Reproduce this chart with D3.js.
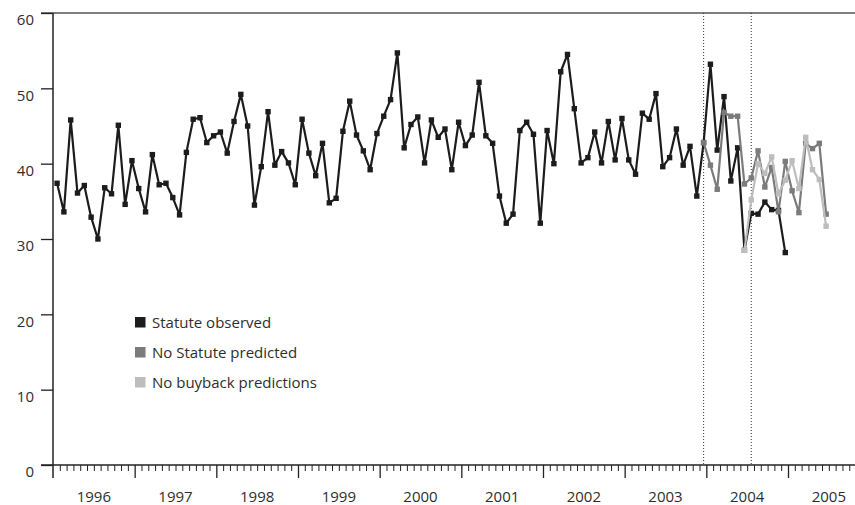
<!DOCTYPE html>
<html><head><meta charset="utf-8">
<script src="https://cdn.jsdelivr.net/npm/d3@7"></script>
<style>
html,body{margin:0;padding:0;background:#fff;}
svg text{font-family:"Open Sans","Lato",sans-serif;fill:#2e2e2e;}
</style></head>
<body><svg id="c" width="855" height="505"></svg>
<script>
const yearLabels = ["1996","1997","1998","1999","2000","2001","2002","2003","2004","2005"];
const yTickValues = [0,10,20,30,40,50,60];
const seriesNames = ["Statute observed","No Statute predicted","No buyback predictions"];
// monthly values, Jan 1996 onward
const statuteObserved = [
 37.4,33.6,45.8,36.1,37.1,32.9,30.0,36.8,36.0,45.1,34.6,40.4,
 36.7,33.6,41.2,37.2,37.4,35.5,33.2,41.5,45.9,46.1,42.8,43.7,
 44.2,41.4,45.6,49.2,45.0,34.5,39.6,46.9,39.8,41.6,40.1,37.2,
 45.9,41.4,38.4,42.7,34.8,35.4,44.3,48.3,43.8,41.7,39.2,44.0,
 46.3,48.5,54.7,42.1,45.2,46.2,40.1,45.8,43.5,44.6,39.2,45.5,
 42.4,43.8,50.8,43.7,42.7,35.7,32.1,33.3,44.4,45.5,43.9,32.1,
 44.4,40.0,52.2,54.5,47.3,40.1,40.8,44.2,40.1,45.6,40.5,46.0,
 40.5,38.6,46.7,45.9,49.3,39.6,40.8,44.6,39.8,42.3,35.7,42.8,
 53.2,41.8,48.9,37.7,42.1,28.5,33.4,33.3,34.9,33.9,33.8,28.2
];
const noStatuteStart = 95;
const noStatutePredicted = [42.8,39.8,36.6,46.8,46.3,46.3,37.3,38.1,41.7,36.9,39.5,33.6,40.3,36.4,33.5,42.7,42.0,42.7,33.3];
const noBuybackStart = 101;
const noBuybackPredictions = [28.5,35.2,40.0,38.7,40.9,36.0,37.8,40.4,36.7,43.5,39.2,37.9,31.7];
const dividerMonths = [95,102];
const colors = ["#1c1c1c","#7b7b7b","#bdbdbd"];

const svg = d3.select("#c");
const x = d3.scaleLinear().domain([0,108]).range([53,788]);
const y = d3.scaleLinear().domain([0,60]).range([465,13]);
const xEnd = 855;
const monthsMax = Math.floor(x.invert(xEnd));
const off = 0.6;

// top line at 60
svg.append("line").attr("x1",41).attr("x2",xEnd).attr("y1",y(60)).attr("y2",y(60))
  .attr("stroke","#555").attr("stroke-width",1.3);

// y axis
const yAxis = d3.axisLeft(y).tickValues(yTickValues).tickSize(12).tickFormat("");
const gy = svg.append("g").attr("transform","translate(53,0)").call(yAxis);
gy.select(".domain").remove();
gy.selectAll(".tick line").attr("stroke","#222").attr("stroke-width",1.3);
svg.append("line").attr("x1",53).attr("x2",53).attr("y1",y(60)).attr("y2",478)
  .attr("stroke","#222").attr("stroke-width",1.5);
svg.selectAll("text.ylab").data(yTickValues).enter().append("text").attr("class","ylab")
  .attr("x",34).attr("y",d=>y(d)+12.3).attr("text-anchor","end").attr("font-size",15).text(d=>d);

// x axis
svg.append("line").attr("x1",41).attr("x2",xEnd).attr("y1",y(0)).attr("y2",y(0))
  .attr("stroke","#222").attr("stroke-width",1.5);
const minorMonths = d3.range(1,monthsMax+1).filter(m=>m%12!==0);
const majorMonths = d3.range(12,monthsMax+1,12);
const gxMinor = svg.append("g").attr("transform",`translate(0,${y(0)})`)
  .call(d3.axisBottom(x).tickValues(minorMonths).tickSize(6).tickFormat(""));
gxMinor.select(".domain").remove();
gxMinor.selectAll(".tick line").attr("stroke","#222").attr("stroke-width",1);
const gxMajor = svg.append("g").attr("transform",`translate(0,${y(0)})`)
  .call(d3.axisBottom(x).tickValues(majorMonths).tickSize(13).tickFormat(""));
gxMajor.select(".domain").remove();
gxMajor.selectAll(".tick line").attr("stroke","#222").attr("stroke-width",1.3);
svg.selectAll("text.xlab").data(yearLabels).enter().append("text").attr("class","xlab")
  .attr("x",(d,i)=>x(i*12+6)).attr("y",502).attr("text-anchor","middle").attr("font-size",15).text(d=>d);

// divider lines
svg.selectAll("line.div").data(dividerMonths).enter().append("line").attr("class","div")
  .attr("x1",d=>x(d+off)).attr("x2",d=>x(d+off)).attr("y1",y(60)).attr("y2",y(0))
  .attr("stroke","#333").attr("stroke-width",1).attr("stroke-dasharray","1,2");

// series
const series = [
  {start:0, values:statuteObserved},
  {start:noStatuteStart, values:noStatutePredicted},
  {start:noBuybackStart, values:noBuybackPredictions}
];
const line = d3.line().x(d=>x(d.m+off)).y(d=>y(d.v));
series.forEach((s,k)=>{
  const pts = s.values.map((v,i)=>({m:s.start+i, v}));
  svg.append("path").datum(pts).attr("d",line).attr("fill","none")
    .attr("stroke",colors[k]).attr("stroke-width",2.2).attr("stroke-linejoin","round");
  svg.append("g").selectAll("rect").data(pts).enter().append("rect")
    .attr("x",d=>x(d.m+off)-2.7).attr("y",d=>y(d.v)-2.7).attr("width",5.4).attr("height",5.4)
    .attr("fill",colors[k]);
});

// legend
const lg = svg.append("g");
seriesNames.forEach((n,i)=>{
  lg.append("rect").attr("x",135).attr("y",317+i*30).attr("width",10.5).attr("height",10.5).attr("fill",colors[i]);
  lg.append("text").attr("x",152).attr("y",327.5+i*30).attr("font-size",15).text(n);
});
</script></body></html>
